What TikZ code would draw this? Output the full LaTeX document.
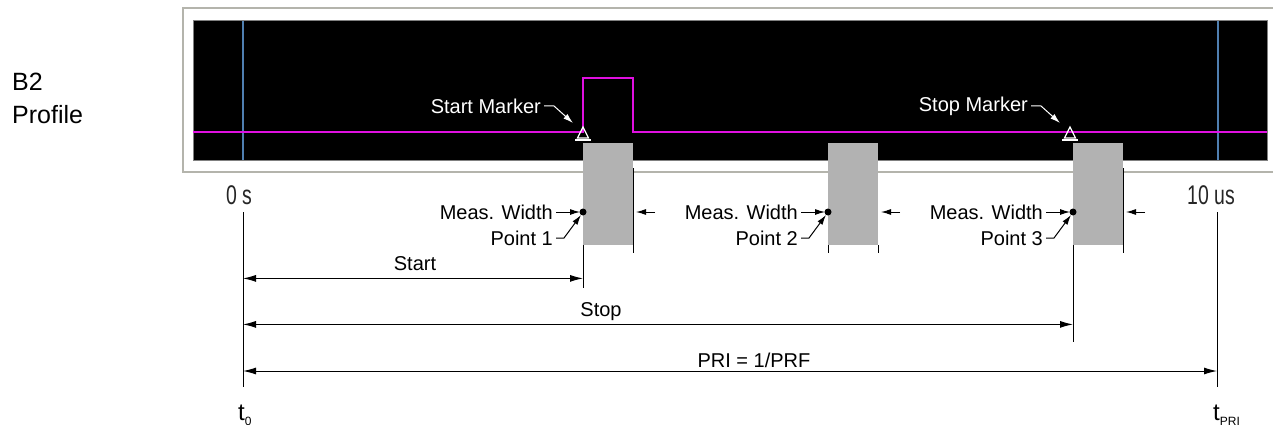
\documentclass[tikz,border=0pt]{standalone}
\usepackage{fontspec}
\setmainfont{Liberation Sans}
\usetikzlibrary{arrows.meta}
\definecolor{trace}{HTML}{E010E0}
\definecolor{cursor}{HTML}{4F7FB0}
\definecolor{gate}{HTML}{B2B2B2}
\definecolor{framec}{HTML}{B4B4AC}
\begin{document}
\begin{tikzpicture}[x=1pt,y=-1pt,
  lbl/.style={font=\fontsize{20}{24}\selectfont,inner sep=0pt},
  wlbl/.style={lbl,text=white},
  axlbl/.style={font=\fontsize{27}{27}\selectfont,inner sep=0pt,text=black!85},
  tlbl/.style={font=\fontsize{24}{24}\selectfont,inner sep=0pt,anchor=base west},
  edge/.style={line width=1pt},
  dim/.style={edge,{Latex[length=13pt,width=7pt]}-{Latex[length=13pt,width=7pt]}},
  pt/.style={edge,-{Latex[length=10pt,width=6pt]}},
  wpt/.style={pt,white},
  gatebox/.style={fill=gate,draw=none,minimum width=50pt,minimum height=102pt,inner sep=0pt,anchor=north west},
  mk/.pic={\draw[white,line width=1.2pt] (-5.5,5) -- (0,-6) -- (5.5,5) -- cycle;
           \draw[white,line width=2pt] (-8,6.5) -- (8,6.5);}
]
\useasboundingbox (0,0) rectangle (1273,425);

\node[font=\fontsize{25}{25}\selectfont,inner sep=0pt,anchor=base west] (b2) at (12,91) {B2};
\node[font=\fontsize{25}{25}\selectfont,inner sep=0pt,anchor=base west] (prof) at (12,124) {Profile};

\draw[framec,line width=1.5pt] (1273,8) -- (183,8) -- (183,172) -- (1273,172);
\fill[black] (193,21) rectangle (1267,160);
\draw[gray,line width=1pt] (193,21) rectangle (1267,160);
\draw[cursor,line width=1.3pt] (243,21) -- (243,160);
\draw[cursor,line width=1.3pt] (1218,21) -- (1218,160);
\draw[trace,line width=2.6pt] (193,132) -- (583,132) -- (583,78) -- (633,78) -- (633,132) -- (1267,132);

\coordinate (m1) at (583,133);
\coordinate (m2) at (1070,133);
\pic at (m1) {mk};
\pic at (m2) {mk};
\node[wlbl,anchor=east] (smk) at (541,106) {Start Marker};
\draw[wpt] ([xshift=3pt]smk.east) -- ++(10,0) -- ([shift={(-10,-10)}]m1);
\node[wlbl,anchor=east] (spk) at (1028,106) {Stop Marker};
\draw[wpt] ([xshift=3pt]spk.east) -- ++(10,0) -- ([shift={(-10,-10)}]m2);

\node[gatebox] (g1) at (583,143) {};
\node[gatebox] (g2) at (828,143) {};
\node[gatebox] (g3) at (1073,143) {};

\node[axlbl] (zero) at (239,195) {\scalebox{0.72}[1]{0 s}};
\node[axlbl] (ten) at (1211,195) {\scalebox{0.72}[1]{10 us}};

\draw[edge] ([yshift=-25pt]g1.north east) -- ([yshift=-8pt]g1.south east);
\draw[edge] (g1.south west) -- ++(0,43);
\draw[edge] (g2.south west) -- ++(0,8);
\draw[edge] (g2.south east) -- ++(0,8);
\draw[edge] ([yshift=-25pt]g3.north east) -- ([yshift=-8pt]g3.south east);
\draw[edge] (g3.south west) -- ++(0,97);

\coordinate (d1) at ([yshift=-69pt]g1.north west);
\fill (d1) circle (3.5pt);
\node[lbl,anchor=east] (mw1) at ([xshift=-30pt]d1) {Meas. Width};
\draw[pt] ([xshift=3pt]mw1.east) -- ([xshift=-3pt]d1);
\draw[pt] ([xshift=72pt]d1) -- ([xshift=53pt]d1);
\node[lbl,anchor=east] (pn1) at ([shift={(-30,26)}]d1) {Point 1};
\draw[pt] ([xshift=3pt]pn1.east) -- ++(8,0) -- ([shift={(-2,3)}]d1);

\coordinate (d2) at ([yshift=-69pt]g2.north west);
\fill (d2) circle (3.5pt);
\node[lbl,anchor=east] (mw2) at ([xshift=-30pt]d2) {Meas. Width};
\draw[pt] ([xshift=3pt]mw2.east) -- ([xshift=-3pt]d2);
\draw[pt] ([xshift=72pt]d2) -- ([xshift=53pt]d2);
\node[lbl,anchor=east] (pn2) at ([shift={(-30,26)}]d2) {Point 2};
\draw[pt] ([xshift=3pt]pn2.east) -- ++(8,0) -- ([shift={(-2,3)}]d2);

\coordinate (d3) at ([yshift=-69pt]g3.north west);
\fill (d3) circle (3.5pt);
\node[lbl,anchor=east] (mw3) at ([xshift=-30pt]d3) {Meas. Width};
\draw[pt] ([xshift=3pt]mw3.east) -- ([xshift=-3pt]d3);
\draw[pt] ([xshift=72pt]d3) -- ([xshift=53pt]d3);
\node[lbl,anchor=east] (pn3) at ([shift={(-30,26)}]d3) {Point 3};
\draw[pt] ([xshift=3pt]pn3.east) -- ++(8,0) -- ([shift={(-2,3)}]d3);

\coordinate (ori) at (243,212);
\coordinate (ori end) at (243,387);
\coordinate (pri) at (1217,212);
\coordinate (pri end) at (1217,387);
\draw[edge] (ori) -- (ori end);
\draw[edge] (pri) -- (pri end);

\coordinate (start end) at ([yshift=-33pt]g1.south west);
\coordinate (stop end) at ([yshift=-79pt]g3.south west);
\draw[dim] (ori |- start end) -- (start end);
\draw[dim] (ori |- stop end) -- (stop end);
\draw[dim] ([yshift=16pt]ori end) -- ([yshift=16pt]pri end);
\node[lbl,anchor=base] (startl) at (415,270) {Start};
\node[lbl,anchor=base] (stopl) at (601,316) {Stop};
\node[lbl,anchor=base] (pril) at (754,367) {PRI = 1/PRF};

\node[tlbl] (t0) at (238,420) {t\raisebox{-5pt}{\fontsize{12}{12}\selectfont 0}};
\node[tlbl] (tpri) at (1213,420) {t\raisebox{-5pt}{\fontsize{12}{12}\selectfont PRI}};
\end{tikzpicture}
\end{document}
